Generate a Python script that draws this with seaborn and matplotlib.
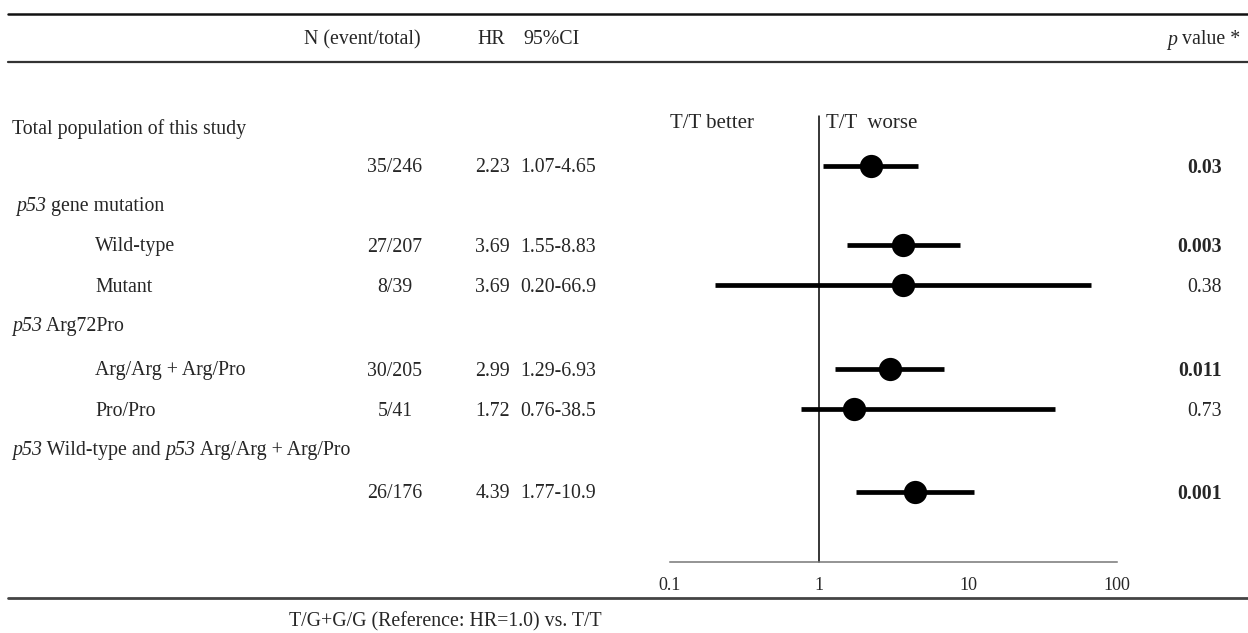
import matplotlib
matplotlib.use("Agg")
import matplotlib.pyplot as plt
import seaborn as sns
import pandas as pd
import numpy as np

# ---------------- data ----------------
row_labels = ["", "Wild-type", "Mutant", "Arg/Arg + Arg/Pro", "Pro/Pro", ""]
n_event_total = ["35/246", "27/207", "8/39", "30/205", "5/41", "26/176"]
hr = [2.23, 3.69, 3.69, 2.99, 1.72, 4.39]
hr_text = ["2.23", "3.69", "3.69", "2.99", "1.72", "4.39"]
ci_low = [1.07, 1.55, 0.20, 1.29, 0.76, 1.77]
ci_high = [4.65, 8.83, 66.9, 6.93, 38.5, 10.9]
ci_text = ["1.07-4.65", "1.55-8.83", "0.20-66.9", "1.29-6.93", "0.76-38.5", "1.77-10.9"]
p_values = ["0.03", "0.003", "0.38", "0.011", "0.73", "0.001"]
p_significant = [True, True, False, True, False, True]
# group titles as (text, italic) segments
group_titles = [
    [("Total population of this study", False)],
    [("p53", True), (" gene mutation", False)],
    [("p53", True), (" Arg72Pro", False)],
    [("p53", True), (" Wild-type and ", False), ("p53", True), (" Arg/Arg + Arg/Pro", False)],
]
p_header = [("p", True), (" value *", False)]
x_ticks = [0.1, 1, 10, 100]
x_tick_labels = ["0.1", "1", "10", "100"]

# ---------------- layout (pixels) ----------------
W, H = 1248, 633
row_y = [166, 245, 285, 369, 409, 492]
group_y = [127, 205, 324, 449]
group_x = [12, 16, 12, 12]
dy = 2  # text baseline nudge

sns.set_theme(style="white")
plt.rcParams["font.family"] = ["Liberation Serif", "DejaVu Serif"]

fig = plt.figure(figsize=(W / 100, H / 100), dpi=100)
bg = fig.add_axes([0, 0, 1, 1])
bg.set_xlim(0, W)
bg.set_ylim(H, 0)
bg.axis("off")
renderer = fig.canvas.get_renderer()

fs = 14.3


def seg_text(x, y, segments, size):
    for txt, ital in segments:
        t = bg.text(x, y, txt, ha="left", va="center", fontsize=size,
                    fontstyle="italic" if ital else "normal")
        bb = t.get_window_extent(renderer=renderer)
        x += bb.width * W / fig.bbox.width
    return x


def seg_text_right(xr, y, segments, size):
    tmp = []
    total = 0.0
    for txt, ital in segments:
        t = bg.text(0, y, txt, ha="left", va="center", fontsize=size,
                    fontstyle="italic" if ital else "normal")
        w = t.get_window_extent(renderer=renderer).width * W / fig.bbox.width
        tmp.append((t, w))
        total += w
    x = xr - total
    for t, w in tmp:
        t.set_x(x)
        x += w


# horizontal rules
bg.plot([8, W], [14, 14], color="#111111", lw=1.8)
bg.plot([8, W], [62, 62], color="#333333", lw=1.6)
bg.plot([8, W], [598, 598], color="#444444", lw=2.0)

# header
bg.text(362, 40, "N (event/total)", ha="center", va="center", fontsize=fs)
bg.text(491, 40, "HR", ha="center", va="center", fontsize=fs)
bg.text(551, 40, "95%CI", ha="center", va="center", fontsize=fs)
seg_text_right(1240, 40, p_header, fs)

for segs, y, x in zip(group_titles, group_y, group_x):
    seg_text(x, y + dy, segs, fs)

for i, y in enumerate(row_y):
    yt = y + dy
    if row_labels[i]:
        bg.text(95, yt, row_labels[i], ha="left", va="center", fontsize=fs)
    bg.text(395, yt, n_event_total[i], ha="center", va="center", fontsize=fs)
    bg.text(510, yt, hr_text[i], ha="right", va="center", fontsize=fs)
    bg.text(520, yt, ci_text[i], ha="left", va="center", fontsize=fs)
    bg.text(1222, yt, p_values[i], ha="right", va="center", fontsize=fs,
            fontweight="bold" if p_significant[i] else "normal")

bg.text(670, 123, "T/T better", ha="left", va="center", fontsize=15)
bg.text(826, 123, "T/T  worse", ha="left", va="center", fontsize=15)
bg.text(445, 622, "T/G+G/G (Reference: HR=1.0) vs. T/T", ha="center", va="center", fontsize=fs)

# ---------------- forest axes ----------------
x0, x1 = 670, 1117
ytop, ybot = 116, 562
ax = fig.add_axes([x0 / W, 1 - ybot / H, (x1 - x0) / W, (ybot - ytop) / H])
ax.patch.set_alpha(0)
ax.set_xscale("log")
ax.set_xlim(0.1, 100)
ax.set_ylim(ybot, ytop)

df = pd.DataFrame({"hr": hr, "lo": ci_low, "hi": ci_high, "y": row_y})
ax.hlines(df["y"], df["lo"], df["hi"], color="black", lw=3.4, zorder=2)
sns.scatterplot(data=df, x="hr", y="y", ax=ax, color="black", s=280,
                edgecolor="black", linewidth=0, zorder=3, legend=False)
ax.axvline(1, color="black", lw=1.1, zorder=1, clip_on=False)

for s in ["top", "right", "left"]:
    ax.spines[s].set_visible(False)
ax.spines["bottom"].set_color("#777777")
ax.spines["bottom"].set_linewidth(1.1)
ax.set_xticks(x_ticks)
ax.set_xticklabels(x_tick_labels)
ax.minorticks_off()
ax.tick_params(axis="x", direction="in", length=7, width=1.1, color="#777777",
               pad=11, labelsize=13)
ax.set_yticks([])
ax.set_xlabel("")
ax.set_ylabel("")

fig.savefig("out.png", dpi=100)
